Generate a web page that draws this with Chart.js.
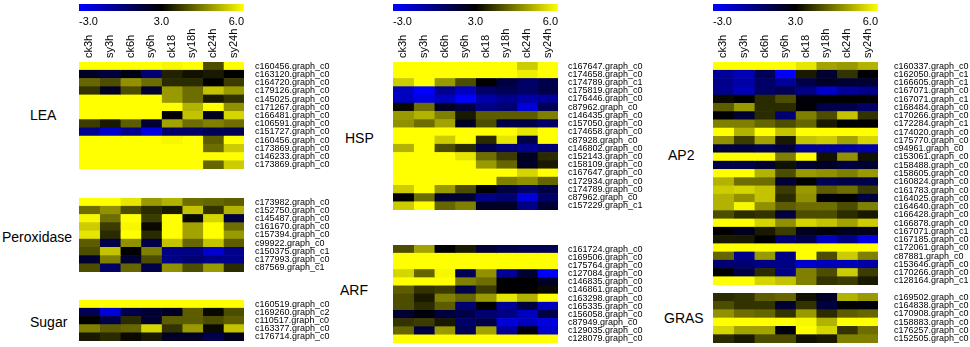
<!DOCTYPE html>
<html>
<head>
<meta charset="utf-8">
<script src="https://cdn.jsdelivr.net/npm/chart.js@4.4.1/dist/chart.umd.min.js"></script>
<style>
  body { margin: 0; background: #fff; width: 970px; height: 347px; overflow: hidden; position: relative;
         font-family: "Liberation Sans", Arial, sans-serif; }
  canvas { position: absolute; }
  .grp { position: absolute; font-size: 14px; line-height: 14px; color: #000; white-space: nowrap; }
</style>
</head>
<body>
<div class="grp" style="left:30px;top:108px">LEA</div>
<div class="grp" style="left:2px;top:230px">Peroxidase</div>
<div class="grp" style="left:30px;top:315px">Sugar</div>
<div class="grp" style="left:345px;top:131px">HSP</div>
<div class="grp" style="left:340px;top:283px">ARF</div>
<div class="grp" style="left:668px;top:148px">AP2</div>
<div class="grp" style="left:664px;top:311px">GRAS</div>
<script>
// columns and colour scale labels
const COLS = ['ck3h', 'sy3h', 'ck6h', 'sy6h', 'ck18', 'sy18h', 'ck24h', 'sy24h'];
const SCALE_TICKS = ['-3.0', '3.0', '6.0'];

// left panel
const LEA_GENES = ['c160456.graph_c0', 'c163120.graph_c0', 'c164720.graph_c0', 'c179126.graph_c0', 'c145025.graph_c0',
  'c171267.graph_c0', 'c166481.graph_c0', 'c106591.graph_c0', 'c151727.graph_c0', 'c160456.graph_c0',
  'c173869.graph_c0', 'c146233.graph_c0', 'c173869.graph_c0'];
const LEA_VALUES = [
  [6, 6, 6, 6, 5.9, 6, 3.9, 6],
  [2.1, 1.5, 2.5, 0.3, 3.4, 3.2, 3.3, 3.0],
  [4.2, 3.9, 4.7, 4.3, 3.5, 3.5, 3.0, 3.7],
  [3.6, 2.1, 3.9, 1.8, 4.8, 4.3, 5.3, 4.8],
  [6, 6, 6, 6, 4.8, 4.3, 3.3, 3.6],
  [6, 6, 6, 6, 6, 5.1, 6, 4.7],
  [6, 6, 6, 6, 3.0, 5.3, 2.3, 5.5],
  [3.7, 3.3, 4.1, 1.8, 4.9, 4.3, 4.5, 4.3],
  [-0.3, -1.8, -0.3, -2.3, 0.6, 0.6, 1.0, 1.0],
  [6, 6, 6, 6, 5.9, 6, 4.1, 6],
  [6, 6, 6, 6, 6, 6, 4.3, 5.4],
  [6, 6, 6, 6, 6, 6, 6, 6],
  [6, 6, 6, 6, 6, 6, 4.2, 5.4]
];
const PEROX_GENES = ['c173982.graph_c0', 'c152750.graph_c0', 'c145487.graph_c0', 'c161670.graph_c0', 'c157394.graph_c0',
  'c99922.graph_c0', 'c150375.graph_c1', 'c177993.graph_c0', 'c87569.graph_c1'];
const PEROX_VALUES = [
  [6, 6, 5.7, 4.8, 5.1, 4.3, 4.2, 4.1],
  [4.3, 4.7, 3.9, 3.5, 3.3, 5.3, 3.6, 5.1],
  [5.9, 4.3, 6, 3.7, 6, 3.1, 5.5, 1.5],
  [5.4, 3.7, 5.9, 3.1, 6, 4.9, 6, 4.3],
  [5.7, 3.5, 6, 3.5, 6, 4.9, 6, 4.8],
  [4.1, 1.3, 4.7, 1.3, 5.3, 4.2, 5.3, 4.1],
  [3.9, 5.3, 3.0, 4.5, -0.1, -0.1, -1.8, -0.3],
  [1.8, 4.5, 1.8, 3.9, -0.1, 0.3, -0.1, -0.3],
  [3.9, 0.6, 4.2, 1.3, 4.7, 3.9, 4.8, 3.5]
];
const SUGAR_GENES = ['c160519.graph_c0', 'c169260.graph_c2', 'c110517.graph_c0', 'c163377.graph_c0', 'c176714.graph_c0'];
const SUGAR_VALUES = [
  [6, 6, 6, 6, 6, 6, 6, 6],
  [1.0, -2.1, 1.3, 1.8, 2.1, 4.1, 3.1, 3.9],
  [3.0, 1.3, 3.5, 1.8, 4.1, 4.1, 3.9, 4.1],
  [4.5, 4.1, 4.2, 5.5, 3.6, 4.8, 3.1, 5.3],
  [3.3, 3.5, 3.1, 3.3, 2.1, 2.1, 1.3, 2.3]
];

// middle panel
const HSP_GENES = ['c167647.graph_c0', 'c174658.graph_c0', 'c174789.graph_c1', 'c175819.graph_c0', 'c176446.graph_c0',
  'c87962.graph_c0', 'c146435.graph_c0', 'c157050.graph_c0', 'c174658.graph_c0', 'c87928.graph_c0',
  'c146802.graph_c0', 'c152143.graph_c0', 'c158109.graph_c0', 'c167647.graph_c0', 'c172934.graph_c0',
  'c174789.graph_c0', 'c87962.graph_c0', 'c157229.graph_c1'];
const HSP_VALUES = [
  [6, 6, 6, 6, 6, 6, 5.4, 6],
  [6, 6, 6, 6, 6, 6, 5.8, 6],
  [5.4, 6, 4.8, 3.9, 3.0, 1.5, 0.6, 1.3],
  [-1.5, -3, -0.3, -1.5, 0.6, 1.0, 0.6, 1.3],
  [-1.5, -2.3, -1.5, -3, -0.9, -0.3, -0.9, -0.6],
  [3.1, 4.3, 2.1, 1.5, -0.1, 0.3, -2.1, 1.0],
  [4.8, 5.1, 4.5, 3.3, 4.1, 4.1, 4.1, 4.5],
  [4.7, 4.3, 4.9, 2.1, 3.9, 1.3, 1.3, 0.6],
  [6, 6, 6, 6, 6, 6, 5.7, 6],
  [6, 6, 5.4, 6, 3.5, 5.7, 1.3, 6],
  [5.1, 6, 3.9, 3.5, 1.3, 0.3, -0.3, 0.3],
  [6, 6, 6, 5.7, 4.3, 3.7, 2.1, 3.5],
  [6, 6, 6, 6, 4.8, 4.2, 2.1, 3.3],
  [6, 6, 6, 6, 6, 6, 5.5, 6],
  [6, 6, 6, 6, 6, 4.5, 4.7, 4.2],
  [5.4, 6, 4.8, 3.9, 3.0, 1.5, 0.6, 1.3],
  [3.0, 4.3, 1.8, 1.8, -0.1, 0.3, -2.1, 0.6],
  [5.4, 6, 4.2, 4.5, 2.1, 2.1, -0.1, 1.8]
];
const ARF_GENES = ['c161724.graph_c0', 'c169506.graph_c0', 'c175764.graph_c0', 'c127084.graph_c0', 'c146835.graph_c0',
  'c146861.graph_c0', 'c163298.graph_c0', 'c165335.graph_c0', 'c156058.graph_c0', 'c87949.graph_c0',
  'c129035.graph_c0', 'c128079.graph_c0'];
const ARF_VALUES = [
  [3.9, 4.9, 3.0, 3.3, 1.8, 1.3, 1.0, 1.0],
  [6, 6, 6, 6, 6, 6, 6, 6],
  [6, 6, 6, 6, 6, 6, 6, 6],
  [5.5, 4.2, 5.9, 1.0, 4.7, -0.6, 1.8, -3],
  [6, 6, 6, 4.5, 4.3, 3.0, 3.0, 2.1],
  [4.1, 3.6, 3.7, 1.3, 3.7, 3.0, 3.0, 3.1],
  [3.9, 3.3, 4.5, 4.2, 4.8, 5.7, 5.1, 6],
  [3.9, 3.5, 4.1, 0.3, 3.0, -0.6, 1.5, -1.5],
  [1.8, 2.7, 1.5, 1.3, 0.3, -0.1, -1.5, 1.3],
  [3.6, 3.7, 3.3, 0.6, 1.3, -2.1, -1.5, -2.3],
  [4.2, 1.5, 4.8, 1.0, 4.9, -0.6, 2.7, -1.8],
  [6, 6, 6, 6, 6, 6, 6, 6]
];

// right panel
const AP2_GENES = ['c160337.graph_c0', 'c162050.graph_c1', 'c166605.graph_c1', 'c167071.graph_c0', 'c167071.graph_c1',
  'c168484.graph_c0', 'c170266.graph_c0', 'c172284.graph_c1', 'c174020.graph_c0', 'c175770.graph_c0',
  'c94961.graph_c0', 'c153061.graph_c0', 'c158488.graph_c0', 'c158605.graph_c0', 'c160824.graph_c0',
  'c161783.graph_c0', 'c164025.graph_c0', 'c164640.graph_c0', 'c166428.graph_c0', 'c166878.graph_c0',
  'c167071.graph_c1', 'c167185.graph_c0', 'c172061.graph_c0', 'c87881.graph_c0', 'c153646.graph_c0',
  'c170266.graph_c0', 'c128164.graph_c1'];
const AP2_VALUES = [
  [6, 6, 6, 6, 5.7, 4.9, 4.8, 5.1],
  [-0.6, -1.3, 1.0, -3, 3.3, 1.8, 3.6, 3.0],
  [-0.3, -0.9, 0.6, -0.6, 1.3, 2.1, 1.8, 1.8],
  [-0.3, -1.3, 0.6, 1.0, -0.1, -1.8, -0.6, -0.3],
  [3.1, 3.0, 3.5, 3.9, 2.7, 2.9, 2.9, 2.9],
  [4.1, 4.8, 3.5, 3.5, 3.0, 1.3, 1.3, 0.6],
  [3.0, 1.8, 3.5, 0.3, 4.5, 3.9, 5.3, 3.6],
  [4.5, 4.5, 4.2, 3.9, 4.2, 3.3, 3.0, 3.0],
  [6, 5.1, 6, 5.3, 6, 6, 6, 6],
  [4.7, 3.7, 4.9, 3.3, 5.3, 5.4, 4.9, 5.5],
  [1.5, 1.5, 1.0, 1.5, -0.6, -0.6, -0.6, -0.9],
  [6, 6, 6, 4.5, 6, 3.2, 4.7, 3.2],
  [1.3, 1.3, 1.8, 3.2, 1.8, 2.1, 1.5, 1.8],
  [6, 6, 5.1, 3.9, 4.8, 4.7, 4.5, 4.8],
  [5.1, 4.3, 4.3, 1.8, 3.0, 1.0, 1.3, 1.3],
  [5.4, 5.5, 5.3, 3.7, 4.8, 4.1, 4.3, 3.7],
  [5.1, 4.7, 5.3, 3.5, 4.7, 2.7, 3.0, 1.5],
  [5.1, 5.9, 4.7, 4.1, 4.3, 4.3, 3.9, 4.5],
  [3.9, 3.5, 3.6, 1.5, 3.9, 3.9, 3.5, 3.3],
  [6, 6, 5.5, 4.7, 5.5, 5.3, 4.9, 5.4],
  [3.0, 2.3, 3.3, 3.7, 2.3, 2.7, 2.3, 2.3],
  [3.3, 3.3, 3.0, 0.3, 1.3, -1.5, -0.1, -2.3],
  [6, 6, 6, 6, 6, 6, 6, 6],
  [4.2, -0.3, 4.8, -0.1, 6, 3.9, 5.4, 4.5],
  [0.3, 0.3, -0.1, -0.1, -1.8, -1.3, -1.3, -0.9],
  [3.0, 1.3, 3.5, -0.1, 4.5, 3.9, 5.4, 3.7],
  [6, 6, 5.5, 5.3, 4.5, 3.6, 3.7, 3.3]
];
const GRAS_GENES = ['c169502.graph_c0', 'c164838.graph_c0', 'c170908.graph_c0', 'c158883.graph_c0', 'c176257.graph_c0',
  'c152505.graph_c0'];
const GRAS_VALUES = [
  [3.5, 3.6, 4.1, 4.2, 3.2, 2.1, 5.1, 4.8],
  [3.9, 3.6, 3.6, 1.8, 3.6, 1.5, 3.0, 2.7],
  [4.7, 4.3, 4.2, 3.6, 4.8, 3.5, 4.1, 4.2],
  [6, 6, 6, 6, 5.9, 5.1, 6, 6],
  [5.5, 4.9, 4.9, 2.7, 6, 5.5, 3.6, 4.3],
  [3.5, 3.3, 3.9, 3.9, 3.2, 3.3, 4.5, 4.5]
];

const MAP_W = 165;
const LABEL_W = 95;
const HEAD_H = 34;
const HEAD_FONT = 11;
const FONT = '"Liberation Sans", Arial, sans-serif';

Chart.defaults.font.family = FONT;
Chart.defaults.color = '#000';

// -3 blue, 3 black, 6 yellow
function cellColor(v) {
  if (v >= 3) {
    const c = Math.round(255 * Math.min((v - 3) / 3, 1));
    return `rgb(${c},${c},0)`;
  }
  const b = Math.round(255 * Math.min((3 - v) / 6, 1));
  return `rgb(0,0,${b})`;
}

function addCanvas(left, top, w, h) {
  const cv = document.createElement('canvas');
  cv.width = w;
  cv.height = h;
  cv.style.left = left + 'px';
  cv.style.top = top + 'px';
  document.body.appendChild(cv);
  return cv;
}

const gradientBar = {
  id: 'gradientBar',
  beforeDatasetsDraw(chart) {
    const { ctx, chartArea: a } = chart;
    const g = ctx.createLinearGradient(a.left, 0, a.right, 0);
    g.addColorStop(0, 'rgb(0,0,255)');
    g.addColorStop(0.5, 'rgb(0,0,0)');
    g.addColorStop(1, 'rgb(255,255,0)');
    ctx.fillStyle = g;
    ctx.fillRect(a.left, a.top, a.width, a.height);
  }
};

function colorBar(left) {
  const cv = addCanvas(left, 0, MAP_W, 30);
  new Chart(cv, {
    type: 'bar',
    data: { labels: SCALE_TICKS, datasets: [] },
    options: {
      responsive: false, animation: false, devicePixelRatio: 1,
      layout: { padding: { top: 4 } },
      plugins: { legend: { display: false }, tooltip: { enabled: false } },
      scales: {
        x: {
          type: 'category', offset: false,
          grid: { display: false, drawTicks: false }, border: { display: false },
          ticks: { align: 'inner', padding: 4, autoSkip: false, maxRotation: 0, font: { size: 11 } },
          afterFit: s => { s.height = 19; s.paddingLeft = 0; s.paddingRight = 0; }
        },
        y: { display: false }
      }
    },
    plugins: [gradientBar]
  });
}

function heatmap(genes, values, left, top, height, gap, header) {
  const headH = header ? HEAD_H : 0;
  const cv = addCanvas(left, top - headH, MAP_W + LABEL_W, height + headH);
  const datasets = COLS.map((c, j) => ({
    label: c,
    data: values.map(() => [j, j + 1]),
    backgroundColor: values.map(r => cellColor(r[j])),
    borderWidth: 0,
    grouped: false,
    barPercentage: 1,
    categoryPercentage: 1
  }));
  const scales = {
    x: { type: 'linear', min: 0, max: COLS.length, display: false },
    y: {
      type: 'category', labels: genes, position: 'right', offset: true,
      grid: { display: false, drawTicks: false }, border: { display: false },
      ticks: { autoSkip: false, padding: gap, font: { size: 9 } },
      afterFit: s => { s.width = LABEL_W; s.paddingTop = 0; s.paddingBottom = 0; }
    }
  };
  if (header) {
    // rotated labels on a top axis are drawn one line height to the left, so push them back
    scales.xTop = {
      type: 'category', axis: 'x', labels: COLS, position: 'top', offset: true,
      min: 0, max: COLS.length - 1,
      grid: { display: false, drawTicks: false }, border: { display: false },
      ticks: { autoSkip: false, minRotation: 90, maxRotation: 90, padding: 4,
               labelOffset: HEAD_FONT * 1.2, font: { size: HEAD_FONT } },
      afterFit: s => { s.height = headH; s.paddingLeft = 0; s.paddingRight = 0; }
    };
  }
  new Chart(cv, {
    type: 'bar',
    data: { labels: genes, datasets },
    options: {
      indexAxis: 'y',
      responsive: false, animation: false, devicePixelRatio: 1,
      layout: { padding: 0 },
      plugins: { legend: { display: false }, tooltip: { enabled: false } },
      scales
    }
  });
}

colorBar(79);
colorBar(393);
colorBar(713);

heatmap(LEA_GENES, LEA_VALUES, 79, 62, 107, 11, true);
heatmap(PEROX_GENES, PEROX_VALUES, 79, 198, 74, 11, false);
heatmap(SUGAR_GENES, SUGAR_VALUES, 79, 300, 41, 11, false);

heatmap(HSP_GENES, HSP_VALUES, 393, 62, 148, 10, true);
heatmap(ARF_GENES, ARF_VALUES, 393, 245, 98, 10, false);

heatmap(AP2_GENES, AP2_VALUES, 713, 62, 223, 16, true);
heatmap(GRAS_GENES, GRAS_VALUES, 713, 293, 50, 16, false);
</script>
</body>
</html>
